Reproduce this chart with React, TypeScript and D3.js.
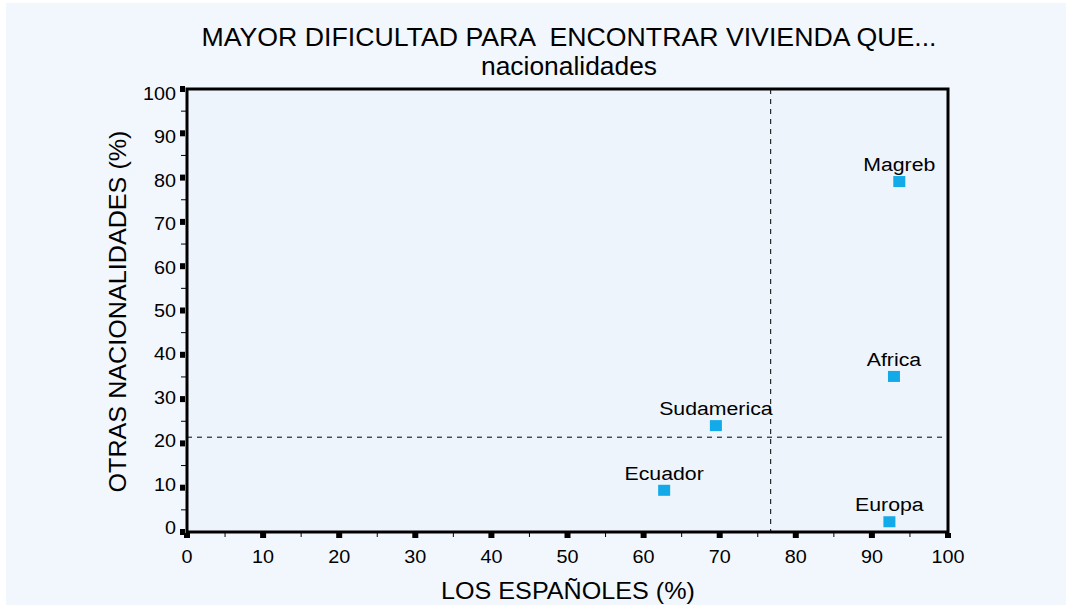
import React, { useEffect, useRef } from "react";
import * as d3 from "d3";

// puntos del grafico
const regions = ["Magreb", "Africa", "Sudamerica", "Ecuador", "Europa"];
const espanoles = [93.6, 92.9, 69.5, 62.7, 92.3];
const otras = [79.0, 35.0, 23.9, 9.3, 2.2];

const xTicks = [0, 10, 20, 30, 40, 50, 60, 70, 80, 90, 100];
const yTicks = [0, 10, 20, 30, 40, 50, 60, 70, 80, 90, 100];
const minorTicks = [5, 15, 25, 35, 45, 55, 65, 75, 85, 95];

// lineas de referencia (media)
const refX = [76.7];
const refY = [21.4];

const App = () => {
    const svgRef = useRef<SVGSVGElement>(null);

    useEffect(() => {
        const svg = d3.select(svgRef.current);
        svg.selectAll("*").remove();

        const width = 1066;
        const height = 605;
        const margin = { top: 89, right: 118, bottom: 73, left: 187 };
        const font = "'Liberation Sans', Arial, sans-serif";

        svg.append("rect").attr("width", width).attr("height", height).attr("fill", "#ffffff");
        svg.append("rect").attr("x", 6).attr("y", 3).attr("width", width - 6).attr("height", height - 3).attr("fill", "#f2f7fd");

        const x = d3.scaleLinear().domain([0, 100]).range([margin.left, width - margin.right]);
        const y = d3.scaleLinear().domain([0, 100]).range([height - margin.bottom, margin.top]);
        // las etiquetas del eje y estan un poco comprimidas
        const yl = d3.scaleLinear().domain([0, 100]).range([y(0) - 4, y(100) + 5]);

        // area del grafico
        svg.append("rect")
            .attr("x", x(0)).attr("y", y(100))
            .attr("width", x(100) - x(0)).attr("height", y(0) - y(100))
            .attr("fill", "#edf4fc");

        // lineas discontinuas
        svg.selectAll(".refx").data(refX).join("line")
            .attr("x1", (d) => x(d)).attr("x2", (d) => x(d))
            .attr("y1", y(100)).attr("y2", y(0))
            .attr("stroke", "#000").attr("stroke-width", 1).attr("stroke-dasharray", "5,5");
        svg.selectAll(".refy").data(refY).join("line")
            .attr("x1", x(0)).attr("x2", x(100))
            .attr("y1", (d) => y(d)).attr("y2", (d) => y(d))
            .attr("stroke", "#000").attr("stroke-width", 1).attr("stroke-dasharray", "5,5");

        // marco
        svg.append("rect")
            .attr("x", x(0)).attr("y", y(100))
            .attr("width", x(100) - x(0)).attr("height", y(0) - y(100))
            .attr("fill", "none").attr("stroke", "#000").attr("stroke-width", 3);

        // ticks eje x
        svg.selectAll(".xmaj").data(xTicks).join("rect")
            .attr("x", (d) => x(d) - 3).attr("y", y(0) + 1)
            .attr("width", 6).attr("height", 5).attr("fill", "#000");
        svg.selectAll(".xmin").data(minorTicks).join("line")
            .attr("x1", (d) => x(d)).attr("x2", (d) => x(d))
            .attr("y1", y(0)).attr("y2", y(0) + 5)
            .attr("stroke", "#000").attr("stroke-width", 1);
        svg.selectAll(".xlab").data(xTicks).join("text")
            .attr("x", (d) => x(d)).attr("y", y(0) + 31)
            .attr("text-anchor", "middle").attr("font-family", font).attr("font-size", 18)
            .attr("transform", (d) => `translate(${x(d)},0) scale(1.1,1) translate(${-x(d)},0)`)
            .text((d) => d);

        // ticks eje y
        svg.selectAll(".ymaj").data(yTicks).join("rect")
            .attr("x", x(0) - 7).attr("y", (d) => y(d) - 3)
            .attr("width", 5).attr("height", 6).attr("fill", "#000");
        svg.selectAll(".ymin").data(minorTicks).join("line")
            .attr("x1", x(0) - 6).attr("x2", x(0))
            .attr("y1", (d) => y(d)).attr("y2", (d) => y(d))
            .attr("stroke", "#000").attr("stroke-width", 1);
        svg.selectAll(".ylab").data(yTicks).join("text")
            .attr("x", x(0) - 11).attr("y", (d) => yl(d) + 6)
            .attr("text-anchor", "end").attr("font-family", font).attr("font-size", 18)
            .attr("transform", `translate(${x(0) - 11},0) scale(1.1,1) translate(${-(x(0) - 11)},0)`)
            .text((d) => d);

        // puntos
        const pts = regions.map((r, i) => ({ name: r, x: espanoles[i], y: otras[i] }));
        svg.selectAll(".pt").data(pts).join("rect")
            .attr("x", (d) => x(d.x) - 6).attr("y", (d) => y(d.y) - 6)
            .attr("width", 12).attr("height", 11).attr("fill", "#12aae8");
        svg.selectAll(".ptlab").data(pts).join("text")
            .attr("x", (d) => x(d.x)).attr("y", (d) => y(d.y) - 11)
            .attr("text-anchor", "middle").attr("font-family", font).attr("font-size", 19)
            .attr("transform", (d) => `translate(${x(d.x)},0) scale(1.12,1) translate(${-x(d.x)},0)`)
            .text((d) => d.name);

        // titulos
        svg.append("text").attr("x", 569).attr("y", 46)
            .attr("text-anchor", "middle").attr("font-family", font).attr("font-size", 26)
            .attr("textLength", 735).attr("lengthAdjust", "spacingAndGlyphs")
            .attr("xml:space", "preserve")
            .text("MAYOR DIFICULTAD PARA  ENCONTRAR VIVIENDA QUE...");
        svg.append("text").attr("x", 569).attr("y", 75)
            .attr("text-anchor", "middle").attr("font-family", font).attr("font-size", 25)
            .attr("textLength", 176).attr("lengthAdjust", "spacingAndGlyphs")
            .text("nacionalidades");
        svg.append("text").attr("x", 568).attr("y", 599)
            .attr("text-anchor", "middle").attr("font-family", font).attr("font-size", 24)
            .attr("textLength", 254).attr("lengthAdjust", "spacingAndGlyphs")
            .text("LOS ESPAÑOLES (%)");
        svg.append("text")
            .attr("transform", `translate(126,${(y(0) + y(100)) / 2 + 1}) rotate(-90)`)
            .attr("text-anchor", "middle").attr("font-family", font).attr("font-size", 24)
            .attr("textLength", 362).attr("lengthAdjust", "spacingAndGlyphs")
            .text("OTRAS NACIONALIDADES (%)");
    }, []);

    return (
        <svg
            ref={svgRef}
            width={1066}
            height={605}
            style={{ position: "absolute", left: 0, top: 0 }}
        ></svg>
    );
};

export default App;
